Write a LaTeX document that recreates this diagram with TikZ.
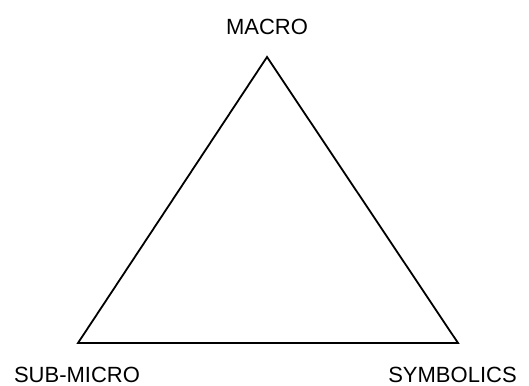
\documentclass[tikz,border=0pt]{standalone}
\usepackage{fontspec}
\setmainfont{Liberation Sans}
\begin{document}
\begin{tikzpicture}[x=1pt,y=1pt,
  lbl/.style={anchor=base,inner sep=0pt,font=\fontsize{22}{25}\selectfont},
  edge/.style={draw=black,line width=1.8pt,line join=miter}]
\useasboundingbox (0,0) rectangle (529,385);
\coordinate (m) at (267,328);
\coordinate (s) at (78,42);
\coordinate (y) at (458,42);
\draw[edge] (m) -- (s) -- (y) -- cycle;
\node[lbl] (macro) at (267,350) {MACRO};
\node[lbl] (sub) at (77,2.5) {SUB-MICRO};
\node[lbl] (sym) at (452.5,2.5) {SYMBOLICS};
\end{tikzpicture}
\end{document}
